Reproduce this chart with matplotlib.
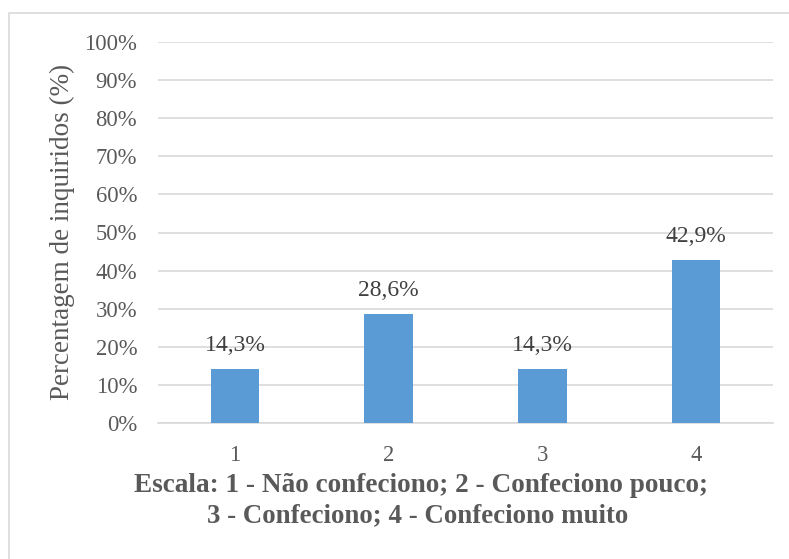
import matplotlib
matplotlib.use("Agg")
import matplotlib.pyplot as plt
from matplotlib.lines import Line2D

categories = ["1", "2", "3", "4"]
values = [14.3, 28.6, 14.3, 42.9]
value_labels = ["14,3%", "28,6%", "14,3%", "42,9%"]
yticks = [0, 10, 20, 30, 40, 50, 60, 70, 80, 90, 100]
ytick_labels = [f"{v}%" for v in yticks]

plt.rcParams['font.family'] = ['Liberation Serif', 'DejaVu Serif']
txt = '#595959'

W, H = 789, 559
fig = plt.figure(figsize=(W/100, H/100), dpi=100)
# chart-area border (only top and left edges visible in the cropped reference)
fig.lines.append(Line2D([9/W, 9/W, 1.0], [0.0, 1-12.5/H, 1-12.5/H],
                        transform=fig.transFigure, color='#d9d9d9', linewidth=1.2))
ax = fig.add_axes([158/W, 1-423/H, (773-158)/W, (423-42)/H])

x = range(len(categories))
ax.bar(x, values, width=0.315, color='#5b9bd5', zorder=3)
for xi, v, lab in zip(x, values, value_labels):
    ax.text(xi, v + 3.3, lab, ha='center', va='bottom', fontsize=17, color='#404040')

ax.set_xlim(-0.5, 3.5)
ax.set_ylim(0, 100)
ax.set_yticks(yticks)
ax.set_yticklabels(ytick_labels, fontsize=16.3, color=txt)
ax.set_xticks(list(x))
ax.set_xticklabels(categories, fontsize=16.3, color=txt)
ax.tick_params(axis='both', length=0)
ax.tick_params(axis='y', pad=15)
ax.tick_params(axis='x', pad=16)
ax.grid(axis='y', color='#d9d9d9', linewidth=1.2, zorder=0)
for s in ['top', 'right', 'left']:
    ax.spines[s].set_visible(False)
ax.spines['bottom'].set_color('#d9d9d9')
ax.spines['bottom'].set_linewidth(1.2)

fig.text(62/W, 1-232/H, "Percentagem de inquiridos (%)", rotation=90,
         ha='center', va='center', fontsize=19.5, color=txt)
fig.text(421/W, 1-485/H, "Escala: 1 - Não confeciono; 2 - Confeciono pouco;",
         ha='center', va='center', fontsize=19.6, fontweight='bold', color=txt)
fig.text(418/W, 1-516/H, "3 - Confeciono; 4 - Confeciono muito",
         ha='center', va='center', fontsize=19.4, fontweight='bold', color=txt)

fig.savefig("out.png", dpi=100)
